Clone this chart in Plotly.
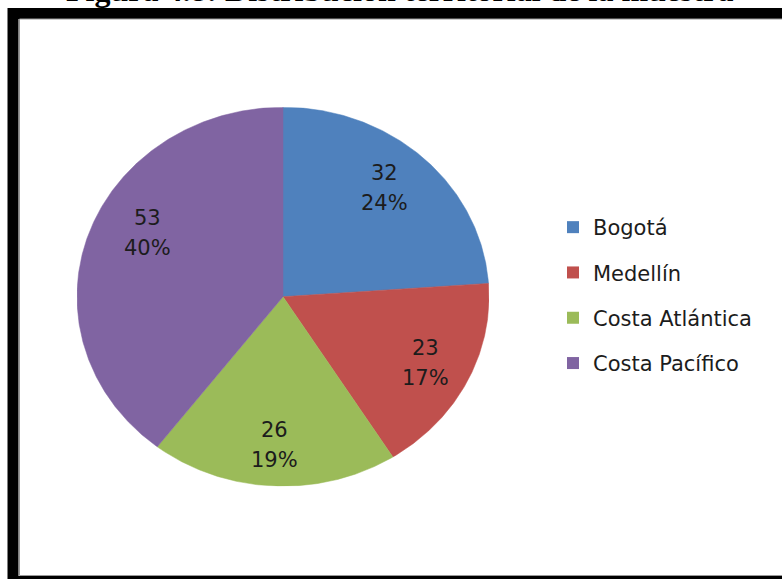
import numpy as np
import plotly.graph_objects as go

# Sample distribution by territory
regions = ["Bogotá", "Medellín", "Costa Atlántica", "Costa Pacífico"]
counts = [32, 23, 26, 53]
colors = ["#4F81BD", "#C0504D", "#9BBB59", "#8064A2"]
title_text = "Figura 4.8: Distribución territorial de la muestra"

W, H = 782, 579
FONT = "DejaVu Sans"
TEXT_COLOR = "#1c1c1c"

# pie ellipse placement in pixels (centre and radii)
cx, cy, rx, ry = 283.0, 296.7, 206.0, 189.5
# per-slice label nudges in pixels (dx right, dy up)
label_nudge = [(-5, 3), (3, -1), (-1, -4), (13, 17)]
LINE_GAP = 15  # half the distance between the value line and the percent line

total = sum(counts)
fractions = [c / total for c in counts]
ends = np.cumsum(fractions) * 360.0
starts = np.concatenate([[0.0], ends[:-1]])

fig = go.Figure()

annotations = []
for name, val, frac, a0, a1, col, (ndx, ndy) in zip(
        regions, counts, fractions, starts, ends, colors, label_nudge):
    # wedge outline, clockwise from 12 o'clock
    theta = np.radians(np.linspace(a0, a1, max(int(a1 - a0) * 2, 8)))
    xs = np.concatenate([[0.0], np.sin(theta), [0.0]])
    ys = np.concatenate([[0.0], np.cos(theta), [0.0]])
    fig.add_trace(go.Scatter(
        x=xs, y=ys, mode="lines", fill="toself", fillcolor=col,
        line=dict(color=col, width=0.5), showlegend=False, hoverinfo="skip",
    ))
    # value and percentage labels inside the slice
    mid = np.radians((a0 + a1) / 2.0)
    r_lab = 0.76
    lx, ly = r_lab * np.sin(mid), r_lab * np.cos(mid)
    for txt, shift in ((f"{val}", LINE_GAP), (f"{round(frac * 100)}%", -LINE_GAP)):
        annotations.append(dict(
            x=lx, y=ly, xref="x", yref="y", xshift=ndx, yshift=ndy + shift,
            text=txt, showarrow=False,
            font=dict(family=FONT, size=21, color=TEXT_COLOR),
            xanchor="center", yanchor="middle",
        ))

# legend entries
for i, (name, col) in enumerate(zip(regions, colors)):
    fig.add_trace(go.Scatter(
        x=[None], y=[None], mode="markers", name=name, legendgroup=f"g{i}",
        marker=dict(symbol="square", size=12, color=col),
    ))

annotations.append(dict(
    x=399.5 / W, y=1 - 9.7 / H, xref="paper", yref="paper",
    text=title_text, showarrow=False, xanchor="center", yanchor="bottom",
    font=dict(family="Liberation Serif", size=32, color="#000000", weight="bold"),
))

shapes = [
    # thick outer frame
    dict(type="rect", xref="paper", yref="paper",
         x0=13 / W, x1=800 / W, y0=1 - 13.5 / H, y1=1 - 581.5 / H,
         line=dict(color="#000000", width=11), fillcolor="rgba(0,0,0,0)"),
    # thin inner edge of the frame
    dict(type="rect", xref="paper", yref="paper",
         x0=19.5 / W, x1=795 / W, y0=1 - 19 / H, y1=1 - 575.5 / H,
         line=dict(color="#9a9a9a", width=1), fillcolor="rgba(0,0,0,0)"),
]

fig.update_layout(
    width=W, height=H,
    margin=dict(l=0, r=0, t=0, b=0),
    paper_bgcolor="white", plot_bgcolor="white",
    xaxis=dict(domain=[(cx - rx) / W, (cx + rx) / W], range=[-1, 1],
               visible=False, fixedrange=True),
    yaxis=dict(domain=[(H - (cy + ry)) / H, (H - (cy - ry)) / H], range=[-1, 1],
               visible=False, fixedrange=True),
    legend=dict(
        x=553 / W, y=1 - 207 / H, xanchor="left", yanchor="top",
        font=dict(family=FONT, size=21, color=TEXT_COLOR),
        tracegroupgap=15, bgcolor="rgba(0,0,0,0)",
    ),
    showlegend=True,
    annotations=annotations,
    shapes=shapes,
)

fig.write_html("out.html")
